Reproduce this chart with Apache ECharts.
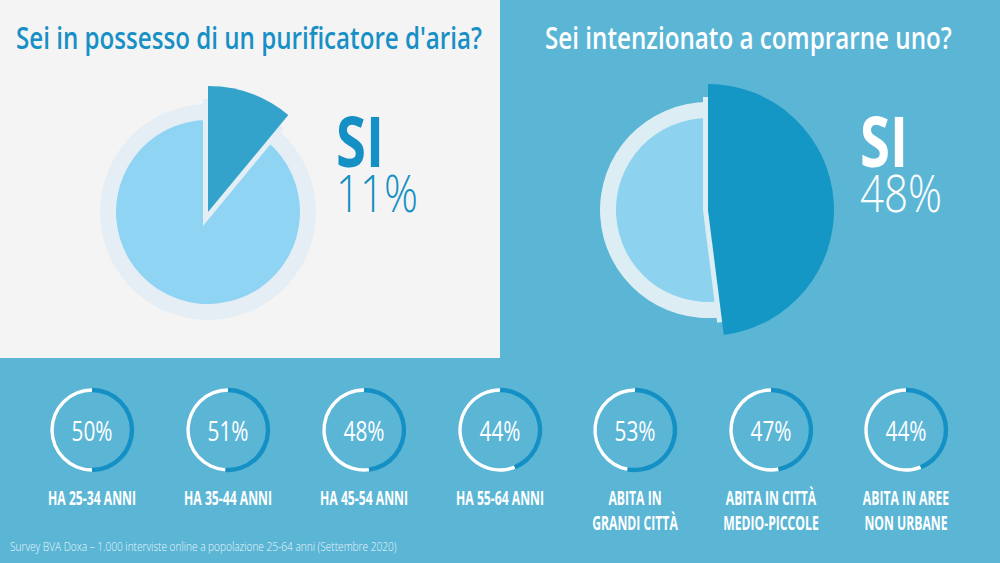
<!DOCTYPE html>
<html>
<head>
<meta charset="utf-8">
<style>html,body{margin:0;padding:0;background:#5bb6d6;}#chart{width:1000px;height:563px;}</style>
<script src="https://cdn.jsdelivr.net/npm/echarts@6/dist/echarts.min.js"></script>
</head>
<body>
<div id="chart"></div>
<script>
// ---- data ----
const mainQuestions = ["Sei in possesso di un purificatore d'aria?", "Sei intenzionato a comprarne uno?"];
const mainAnswerLabel = ["SI", "SI"];
const mainYes = [11, 48];
const groupLabels = ["HA 25-34 ANNI", "HA 35-44 ANNI", "HA 45-54 ANNI", "HA 55-64 ANNI",
  "ABITA IN\nGRANDI CITTÀ", "ABITA IN CITTÀ\nMEDIO-PICCOLE", "ABITA IN AREE\nNON URBANE"];
const groupYes = [50, 51, 48, 44, 53, 47, 44];
const sourceNote = "Survey BVA Doxa – 1.000 interviste online a popolazione 25-64 anni (Settembre 2020)";

// ---- styling / layout ----
const FONT = '"Open Sans", "Noto Sans", sans-serif';
const mainCenters = [[208, 212], [708, 210]];
const mainStyle = [
  {halo: '#e4eef4', light: '#8fd4f2', dark: '#33a3cc', text: '#1590c4', title: '#1790c6'},
  {halo: '#dcedf4', light: '#8dd3f0', dark: '#1597c6', text: '#ffffff', title: '#ffffff'}
];
const ringX = [92, 228, 364, 500, 635, 771, 906];
const ringY = 430;

const ctx = document.createElement('canvas').getContext('2d');
function measure(text, size, weight) {
  ctx.font = weight + ' ' + size + 'px ' + FONT;
  return ctx.measureText(text).width;
}
function textEl(text, x, y, size, weight, color, align, scaleX, opacity) {
  return {
    type: 'text', x: x, y: y, scaleX: scaleX, scaleY: 1, z: 100, silent: true,
    style: {
      text: text, x: 0, y: 0, fontSize: size, fontWeight: weight, fontFamily: FONT,
      fill: color, align: align, verticalAlign: 'middle', opacity: opacity == null ? 1 : opacity
    }
  };
}

const series = [];
const graphics = [
  {type: 'rect', shape: {x: 0, y: 0, width: 1000, height: 563}, style: {fill: '#5bb6d6'}, z: -10, silent: true},
  {type: 'rect', shape: {x: 0, y: 0, width: 500, height: 358}, style: {fill: '#f4f4f4'}, z: -9, silent: true}
];

function pie(center, radius, data) {
  return {
    type: 'pie', center: center, radius: radius, data: data, silent: true, animation: false,
    label: {show: false}, labelLine: {show: false}, emphasis: {disabled: true, scale: false},
    startAngle: 90, clockwise: true, minAngle: 0, avoidLabelOverlap: false
  };
}

mainYes.forEach((v, i) => {
  const c = mainCenters[i], s = mainStyle[i];
  const rest = 100 - v;
  series.push(pie(c, [0, 108], [
    {value: v, itemStyle: {color: s.halo, borderWidth: 0}},
    {value: rest, itemStyle: {color: s.halo, borderWidth: 0}}]));
  series.push(pie(c, [0, 92], [
    {value: v, itemStyle: {color: s.light, borderWidth: 0}},
    {value: rest, itemStyle: {color: s.light, borderWidth: 0}}]));
  series.push(pie(c, [0, 108], [
    {value: v, itemStyle: {color: s.halo, borderColor: s.halo, borderWidth: 10, borderJoin: 'miter'}},
    {value: rest, itemStyle: {color: 'rgba(0,0,0,0)', borderWidth: 0}}]));
  series.push(pie(c, [0, 126], [
    {value: v, itemStyle: {color: s.dark, borderWidth: 0}},
    {value: rest, itemStyle: {color: 'rgba(0,0,0,0)', borderWidth: 0}}]));

  // titles & big numbers
  const titleX = [16, 545][i], titleW = [466, 407][i];
  graphics.push(textEl(mainQuestions[i], titleX, 37, 30, 600, s.title, 'left',
    titleW / measure(mainQuestions[i], 30, 600)));
  const numX = [336, 860][i];
  graphics.push(textEl(mainAnswerLabel[i], numX, 140, 70, 700, s.text, 'left',
    48 / measure(mainAnswerLabel[i], 70, 700)));
  const pct = v + '%';
  graphics.push(textEl(pct, numX, 192, 52, 300, s.text, 'left',
    82 / measure(pct, 52, 300)));
});

const pctScale = 41 / measure(groupYes[0] + '%', 28, 400);
const lblScale = 88 / measure(groupLabels[0], 19, 700);

groupYes.forEach((v, i) => {
  const c = [ringX[i], ringY];
  series.push(pie(c, [38.3, 41.7], [
    {value: v, itemStyle: {color: 'rgba(0,0,0,0)', borderWidth: 0}},
    {value: 100 - v, itemStyle: {color: '#ffffff', borderWidth: 0}}]));
  series.push(pie(c, [37.8, 42.2], [
    {value: v, itemStyle: {color: '#1590c4', borderWidth: 0}},
    {value: 100 - v, itemStyle: {color: 'rgba(0,0,0,0)', borderWidth: 0}}]));
  graphics.push(textEl(v + '%', ringX[i], ringY, 28, 400, '#ffffff', 'center', pctScale));
  groupLabels[i].split('\n').forEach((line, k) => {
    graphics.push(textEl(line, ringX[i], 498 + k * 25, 19, 700, '#ffffff', 'center', lblScale));
  });
});

graphics.push(textEl(sourceNote, 10, 546, 13, 300, '#ffffff', 'left',
  387 / measure(sourceNote, 13, 300), 0.9));

const chart = echarts.init(document.getElementById('chart'), null, {renderer: 'svg', width: 1000, height: 563});
chart.setOption({
  backgroundColor: '#5bb6d6',
  animation: false,
  tooltip: {show: false},
  series: series,
  graphic: {elements: graphics}
});
</script>
</body>
</html>
